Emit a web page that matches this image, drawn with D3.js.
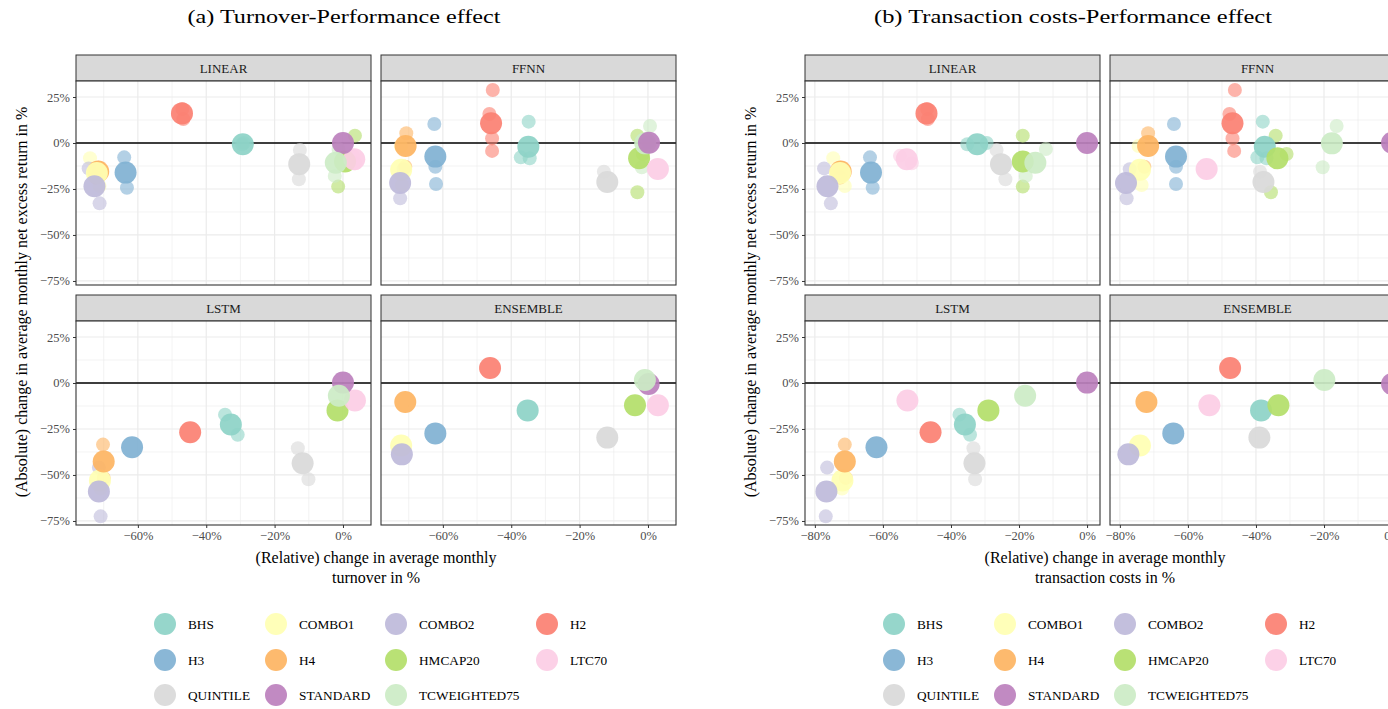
<!DOCTYPE html>
<html>
<head>
<meta charset="utf-8">
<script src="https://cdn.jsdelivr.net/npm/d3@7"></script>
<style>
  body { margin: 0; background: #fff; }
  svg { display: block; font-family: "Liberation Serif", "Times New Roman", serif; }
</style>
</head>
<body>
<svg id="chart" width="1388" height="709"></svg>
<script>
// strategies and their Set3 colours
const strategies = ["BHS", "COMBO1", "COMBO2", "H2", "H3", "H4", "HMCAP20", "LTC70", "QUINTILE", "STANDARD", "TCWEIGHTED75"];
const strategyColors = ["#8DD3C7", "#FFFFB3", "#BEBADA", "#FB8072", "#80B1D3", "#FDB462", "#B3DE69", "#FCCDE5", "#D9D9D9", "#BC80BD", "#CCEBC5"];
const models = ["LINEAR", "FFNN", "LSTM", "ENSEMBLE"];

const yTicks = [25, 0, -25, -50, -75];
const xTicksTurnover = [-60, -40, -20, 0];
const xTicksCosts = [-80, -60, -40, -20, 0];

// [strategy, turnover change %, transaction cost change %, return change %, main setting?]
const linearPts = [
  ["BHS", -29.5, -35.2, -0.7, 0], ["BHS", -29.0, -29.5, 0.0, 0],
  ["COMBO1", -74.0, -74.6, -8.3, 0], ["COMBO1", -71.2, -71.2, -23.4, 0],
  ["COMBO2", -71.2, -75.3, -32.8, 0], ["COMBO2", -74.4, -77.3, -13.8, 0],
  ["H2", -47.0, -47.0, 18.5, 0], ["H2", -46.7, -46.8, 13.0, 0],
  ["H3", -64.0, -63.8, -7.8, 0], ["H3", -63.2, -63.0, -24.3, 0],
  ["HMCAP20", 3.5, -18.9, 4.0, 0], ["HMCAP20", -1.4, -18.9, -23.7, 0],
  ["LTC70", 3.0, -55.0, -7.0, 0], ["LTC70", 3.6, -51.5, -11.0, 0],
  ["QUINTILE", -12.6, -26.6, -3.8, 0], ["QUINTILE", -12.9, -24.0, -19.7, 0],
  ["TCWEIGHTED75", -1.3, -12.1, -3.3, 0], ["TCWEIGHTED75", -2.4, -18.0, -17.9, 0],
  ["BHS", -29.3, -32.3, -0.7, 1],
  ["H4", -71.6, -72.4, -15.5, 1],
  ["COMBO1", -72.0, -72.6, -16.3, 1],
  ["COMBO2", -72.7, -76.3, -23.5, 1],
  ["H2", -47.1, -47.2, 16.1, 1],
  ["H3", -63.6, -63.5, -16.1, 1],
  ["HMCAP20", 0.6, -18.9, -10.1, 1],
  ["LTC70", 3.3, -53.0, -8.8, 1],
  ["QUINTILE", -12.8, -25.3, -11.5, 1],
  ["STANDARD", 0.0, 0.0, 0.0, 1],
  ["TCWEIGHTED75", -2.1, -15.2, -10.7, 1],
  ["H4", -71.5, -72.5, -13.5, 0], ["H4", -72.3, -72.6, -18.8, 0]
];

const ffnnPts = [
  ["BHS", -34.9, -38.0, 11.6, 0], ["BHS", -37.2, -39.6, -7.8, 0], ["BHS", -34.6, -36.9, -8.3, 0],
  ["COMBO1", -72.3, -74.5, -1.6, 0], ["COMBO1", -72.0, -73.6, -22.8, 0],
  ["COMBO2", -72.5, -78.0, -30.1, 0], ["COMBO2", -71.5, -77.1, -14.3, 0],
  ["H2", -45.4, -46.2, 28.8, 0], ["H2", -46.4, -47.8, 15.8, 0], ["H2", -45.6, -46.9, 2.5, 0], ["H2", -45.6, -46.4, -4.3, 0],
  ["H3", -62.5, -64.1, 10.3, 0], ["H3", -62.2, -63.5, -12.9, 0], ["H3", -62.0, -63.5, -22.3, 0],
  ["H4", -70.7, -71.7, 5.3, 0], ["H4", -71.0, -72.8, -12.9, 0],
  ["HMCAP20", -3.1, -34.2, 4.0, 0], ["HMCAP20", -3.1, -35.6, -26.8, 0], ["HMCAP20", -1.5, -31.0, -6.0, 0],
  ["QUINTILE", -12.9, -38.8, -15.6, 0],
  ["TCWEIGHTED75", 0.6, -16.3, 9.2, 0], ["TCWEIGHTED75", -1.8, -20.4, -13.2, 0],
  ["BHS", -35.0, -37.4, -2.0, 1],
  ["COMBO1", -72.2, -74.1, -14.5, 1],
  ["COMBO2", -72.5, -78.2, -21.8, 1],
  ["H2", -45.9, -46.9, 10.7, 1],
  ["H3", -62.2, -63.5, -7.4, 1],
  ["H4", -70.9, -71.7, -1.6, 1],
  ["HMCAP20", -2.6, -33.7, -8.3, 1],
  ["LTC70", 2.9, -54.5, -14.1, 1],
  ["QUINTILE", -11.9, -37.8, -21.2, 1],
  ["TCWEIGHTED75", -0.8, -17.7, -0.2, 1],
  ["STANDARD", 0.3, 0.0, 0.1, 1],
  ["STANDARD", 0.0, 0.0, 0.2, 0]
];

const lstmPts = [
  ["BHS", -34.5, -37.5, -17.2, 0], ["BHS", -30.8, -34.4, -28.1, 0],
  ["COMBO1", -70.9, -72.0, -57.4, 0],
  ["COMBO2", -71.4, -76.4, -46.0, 0], ["COMBO2", -70.9, -76.8, -72.5, 0],
  ["H4", -70.2, -71.2, -33.5, 0], ["H4", -70.0, -70.9, -51.6, 0],
  ["QUINTILE", -13.2, -33.4, -35.5, 0], ["QUINTILE", -10.1, -32.9, -52.3, 0],
  ["BHS", -32.8, -35.9, -22.6, 1],
  ["COMBO1", -71.1, -71.9, -53.0, 1],
  ["COMBO2", -71.4, -76.6, -59.0, 1],
  ["H2", -44.7, -46.0, -26.8, 1],
  ["H3", -61.7, -61.9, -34.9, 1],
  ["H4", -70.0, -71.2, -42.7, 1],
  ["HMCAP20", -1.6, -29.0, -14.9, 1],
  ["LTC70", 3.5, -52.8, -9.5, 1],
  ["QUINTILE", -11.8, -33.1, -43.6, 1],
  ["STANDARD", 0.0, 0.0, 0.2, 1],
  ["TCWEIGHTED75", -1.2, -18.2, -6.9, 1]
];

const ensemblePts = [
  ["BHS", -35.2, -38.5, -14.9, 1],
  ["COMBO1", -72.2, -74.1, -34.0, 1],
  ["COMBO2", -72.0, -77.5, -38.8, 1],
  ["H2", -46.2, -47.6, 8.2, 1],
  ["H3", -62.2, -64.3, -27.4, 1],
  ["H4", -71.0, -72.2, -10.3, 1],
  ["HMCAP20", -3.8, -33.4, -12.1, 1],
  ["LTC70", 2.9, -53.7, -12.1, 1],
  ["QUINTILE", -11.9, -39.0, -29.7, 1],
  ["STANDARD", 0.2, 0.0, -0.6, 1],
  ["TCWEIGHTED75", -0.9, -19.9, 1.6, 1]
];

const modelPts = [linearPts, ffnnPts, lstmPts, ensemblePts];

const color = d3.scaleOrdinal().domain(strategies).range(strategyColors);
const svg = d3.select("#chart");

const fmtPct = d => (d < 0 ? "\u2212" : "") + Math.abs(d) + "%";

// layout of one 2x2 facet figure
const panelW = 295, panelH = 204, stripH = 26, gap = 10, topY = 55;

const figures = [
  { title: "(a) Turnover-Performance effect", titleX: 344, titleW: 313, left: 76, col: 1,
    xDomain: [-78.1, 8.2], xTicks: xTicksTurnover, xLab: ["(Relative) change in average monthly", "turnover in %"], yLabX: 22 },
  { title: "(b) Transaction costs-Performance effect", titleX: 1073, titleW: 398, left: 805, col: 2,
    xDomain: [-82.9, 3.8], xTicks: xTicksCosts, xLab: ["(Relative) change in average monthly", "transaction costs in %"], yLabX: 751 }
];

const y = d3.scaleLinear().domain([-77.2, 33.7]).range([panelH, 0]);
const yMinor = [12.5, -12.5, -37.5, -62.5];

figures.forEach((fig, fi) => {
  const x = d3.scaleLinear().domain(fig.xDomain).range([0, panelW]);
  const xMinor = d3.range(-90, 20, 10).filter(v => v > fig.xDomain[0] && v < fig.xDomain[1] && !fig.xTicks.includes(v));

  svg.append("text")
    .attr("x", fig.titleX).attr("y", 23)
    .attr("text-anchor", "middle")
    .attr("font-size", 18)
    .attr("textLength", fig.titleW).attr("lengthAdjust", "spacingAndGlyphs")
    .text(fig.title);

  models.forEach((m, mi) => {
    const c = mi % 2, r = Math.floor(mi / 2);
    const px = fig.left + c * (panelW + gap);
    const sy = topY + r * (stripH + panelH + gap);
    const py = sy + stripH;

    // strip
    svg.append("rect")
      .attr("x", px).attr("y", sy).attr("width", panelW).attr("height", stripH)
      .attr("fill", "#D9D9D9").attr("stroke", "#333").attr("stroke-width", 1);
    svg.append("text")
      .attr("x", px + panelW / 2).attr("y", sy + 17.5)
      .attr("text-anchor", "middle").attr("font-size", 13).attr("fill", "#1A1A1A")
      .text(m);

    const g = svg.append("g").attr("transform", `translate(${px},${py})`);
    const clipId = `clip-${fi}-${mi}`;
    g.append("clipPath").attr("id", clipId)
      .append("rect").attr("width", panelW).attr("height", panelH);

    g.append("rect").attr("width", panelW).attr("height", panelH).attr("fill", "#fff");

    // gridlines
    const grid = g.append("g");
    grid.selectAll(".ymin").data(yMinor).join("line")
      .attr("x1", 0).attr("x2", panelW).attr("y1", d => y(d)).attr("y2", d => y(d))
      .attr("stroke", "#EBEBEB").attr("stroke-width", 0.6);
    grid.selectAll(".xmin").data(xMinor).join("line")
      .attr("y1", 0).attr("y2", panelH).attr("x1", d => x(d)).attr("x2", d => x(d))
      .attr("stroke", "#EBEBEB").attr("stroke-width", 0.6);
    grid.selectAll(".ymaj").data(yTicks).join("line")
      .attr("x1", 0).attr("x2", panelW).attr("y1", d => y(d)).attr("y2", d => y(d))
      .attr("stroke", "#EBEBEB").attr("stroke-width", 1.2);
    grid.selectAll(".xmaj").data(fig.xTicks).join("line")
      .attr("y1", 0).attr("y2", panelH).attr("x1", d => x(d)).attr("x2", d => x(d))
      .attr("stroke", "#EBEBEB").attr("stroke-width", 1.2);

    // zero line
    g.append("line")
      .attr("x1", 0).attr("x2", panelW).attr("y1", y(0)).attr("y2", y(0))
      .attr("stroke", "#000").attr("stroke-width", 1.3);

    // points: alternative settings first, main settings on top (stable sort keeps row order)
    const pts = modelPts[mi].slice().sort((a, b) => a[4] - b[4]);
    g.append("g").attr("clip-path", `url(#${clipId})`)
      .selectAll("circle").data(pts).join("circle")
      .attr("cx", d => x(d[fig.col]))
      .attr("cy", d => y(d[3]))
      .attr("r", d => d[4] ? 11 : 7)
      .attr("fill", d => color(d[0]))
      .attr("fill-opacity", d => d[4] ? 0.92 : 0.6);

    g.append("rect").attr("width", panelW).attr("height", panelH)
      .attr("fill", "none").attr("stroke", "#333").attr("stroke-width", 1.1);

    // axes
    if (c === 0) {
      const ay = g.append("g").call(d3.axisLeft(y).tickValues(yTicks).tickFormat(fmtPct).tickSize(3).tickPadding(3));
      ay.select(".domain").remove();
      ay.selectAll("line").attr("stroke", "#333");
      ay.selectAll("text").attr("fill", "#4D4D4D").attr("font-size", 12.5).attr("font-family", "Liberation Serif");
    }
    if (r === 1) {
      const ax = g.append("g").attr("transform", `translate(0,${panelH})`)
        .call(d3.axisBottom(x).tickValues(fig.xTicks).tickFormat(fmtPct).tickSize(3).tickPadding(3));
      ax.select(".domain").remove();
      ax.selectAll("line").attr("stroke", "#333");
      ax.selectAll("text").attr("fill", "#4D4D4D").attr("font-size", 12.5).attr("font-family", "Liberation Serif");
    }
  });

  // axis titles
  const cx = fig.left + panelW + gap / 2;
  fig.xLab.forEach((t, i) => {
    svg.append("text")
      .attr("x", cx).attr("y", 563 + i * 20)
      .attr("text-anchor", "middle").attr("font-size", 16)
      .text(t);
  });
  svg.append("text")
    .attr("transform", `translate(${fig.yLabX + 5},302) rotate(-90)`)
    .attr("text-anchor", "middle").attr("font-size", 16)
    .text("(Absolute) change in average monthly net excess return in %");

  // legend
  const legendX = fig.left + 89;
  const colOff = [0, 111, 231, 382];
  const rowY = [624, 660, 695];
  const lg = svg.append("g");
  strategies.forEach((s, i) => {
    const lx = legendX + colOff[i % 4], ly = rowY[Math.floor(i / 4)];
    lg.append("circle").attr("cx", lx).attr("cy", ly).attr("r", 11)
      .attr("fill", color(s)).attr("fill-opacity", 0.92);
    lg.append("text").attr("x", lx + 23).attr("y", ly + 5)
      .attr("font-size", 13.3).text(s);
  });
});
</script>
</body>
</html>
